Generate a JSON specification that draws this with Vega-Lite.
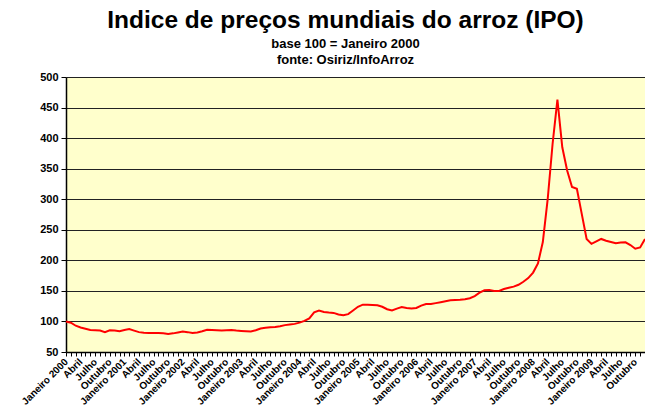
{
  "$schema": "https://vega.github.io/schema/vega-lite/v6.json",
  "width": 579,
  "height": 275,
  "autosize": "none",
  "padding": {"left": 66, "top": 77, "right": 0, "bottom": 62},
  "background": "#ffffff",
  "title": {
    "text": "Indice de preços mundiais do arroz (IPO)",
    "subtitle": ["base 100 = Janeiro 2000", "fonte: Osiriz/InfoArroz"],
    "font": "Liberation Sans",
    "fontSize": 24.5,
    "fontWeight": "bold",
    "color": "#000000",
    "subtitleFont": "Liberation Sans",
    "subtitleFontSize": 13,
    "subtitleFontWeight": "bold",
    "subtitleColor": "#000000",
    "subtitlePadding": 5,
    "subtitleLineHeight": 16,
    "offset": 3,
    "dx": -10
  },
  "data": {
    "values": [
      {"mes": "2000-01", "indice": 100}, {"mes": "2000-02", "indice": 98}, {"mes": "2000-03", "indice": 93}, {"mes": "2000-04", "indice": 90},
      {"mes": "2000-05", "indice": 88}, {"mes": "2000-06", "indice": 86}, {"mes": "2000-07", "indice": 85.5}, {"mes": "2000-08", "indice": 85},
      {"mes": "2000-09", "indice": 82.5}, {"mes": "2000-10", "indice": 85.5}, {"mes": "2000-11", "indice": 85}, {"mes": "2000-12", "indice": 84},
      {"mes": "2001-01", "indice": 86}, {"mes": "2001-02", "indice": 87.5}, {"mes": "2001-03", "indice": 85}, {"mes": "2001-04", "indice": 82.5},
      {"mes": "2001-05", "indice": 81.5}, {"mes": "2001-06", "indice": 81}, {"mes": "2001-07", "indice": 81}, {"mes": "2001-08", "indice": 81},
      {"mes": "2001-09", "indice": 80.5}, {"mes": "2001-10", "indice": 79.5}, {"mes": "2001-11", "indice": 80.5}, {"mes": "2001-12", "indice": 82},
      {"mes": "2002-01", "indice": 83.5}, {"mes": "2002-02", "indice": 82.5}, {"mes": "2002-03", "indice": 81}, {"mes": "2002-04", "indice": 82},
      {"mes": "2002-05", "indice": 84}, {"mes": "2002-06", "indice": 86.5}, {"mes": "2002-07", "indice": 86}, {"mes": "2002-08", "indice": 85.5},
      {"mes": "2002-09", "indice": 85}, {"mes": "2002-10", "indice": 85.5}, {"mes": "2002-11", "indice": 86}, {"mes": "2002-12", "indice": 85},
      {"mes": "2003-01", "indice": 84.5}, {"mes": "2003-02", "indice": 84}, {"mes": "2003-03", "indice": 83.5}, {"mes": "2003-04", "indice": 85.5},
      {"mes": "2003-05", "indice": 88.5}, {"mes": "2003-06", "indice": 89.5}, {"mes": "2003-07", "indice": 90.5}, {"mes": "2003-08", "indice": 91},
      {"mes": "2003-09", "indice": 92}, {"mes": "2003-10", "indice": 94}, {"mes": "2003-11", "indice": 95}, {"mes": "2003-12", "indice": 96},
      {"mes": "2004-01", "indice": 98}, {"mes": "2004-02", "indice": 101}, {"mes": "2004-03", "indice": 105}, {"mes": "2004-04", "indice": 115},
      {"mes": "2004-05", "indice": 118}, {"mes": "2004-06", "indice": 115.5}, {"mes": "2004-07", "indice": 114.5}, {"mes": "2004-08", "indice": 114},
      {"mes": "2004-09", "indice": 111.5}, {"mes": "2004-10", "indice": 110}, {"mes": "2004-11", "indice": 112}, {"mes": "2004-12", "indice": 118},
      {"mes": "2005-01", "indice": 124}, {"mes": "2005-02", "indice": 127.5}, {"mes": "2005-03", "indice": 127.5}, {"mes": "2005-04", "indice": 127},
      {"mes": "2005-05", "indice": 126.5}, {"mes": "2005-06", "indice": 124}, {"mes": "2005-07", "indice": 120}, {"mes": "2005-08", "indice": 118},
      {"mes": "2005-09", "indice": 121}, {"mes": "2005-10", "indice": 123.5}, {"mes": "2005-11", "indice": 122}, {"mes": "2005-12", "indice": 121},
      {"mes": "2006-01", "indice": 122}, {"mes": "2006-02", "indice": 126}, {"mes": "2006-03", "indice": 128.5}, {"mes": "2006-04", "indice": 128.5},
      {"mes": "2006-05", "indice": 130}, {"mes": "2006-06", "indice": 131.5}, {"mes": "2006-07", "indice": 133}, {"mes": "2006-08", "indice": 134.5},
      {"mes": "2006-09", "indice": 135}, {"mes": "2006-10", "indice": 135.5}, {"mes": "2006-11", "indice": 136.5}, {"mes": "2006-12", "indice": 138},
      {"mes": "2007-01", "indice": 141.5}, {"mes": "2007-02", "indice": 147}, {"mes": "2007-03", "indice": 151}, {"mes": "2007-04", "indice": 151.5},
      {"mes": "2007-05", "indice": 150}, {"mes": "2007-06", "indice": 150}, {"mes": "2007-07", "indice": 153}, {"mes": "2007-08", "indice": 155},
      {"mes": "2007-09", "indice": 157}, {"mes": "2007-10", "indice": 160}, {"mes": "2007-11", "indice": 165}, {"mes": "2007-12", "indice": 171},
      {"mes": "2008-01", "indice": 180}, {"mes": "2008-02", "indice": 195}, {"mes": "2008-03", "indice": 230}, {"mes": "2008-04", "indice": 300},
      {"mes": "2008-05", "indice": 390}, {"mes": "2008-06", "indice": 463}, {"mes": "2008-07", "indice": 385}, {"mes": "2008-08", "indice": 347},
      {"mes": "2008-09", "indice": 320}, {"mes": "2008-10", "indice": 317}, {"mes": "2008-11", "indice": 276}, {"mes": "2008-12", "indice": 235},
      {"mes": "2009-01", "indice": 227}, {"mes": "2009-02", "indice": 231}, {"mes": "2009-03", "indice": 235}, {"mes": "2009-04", "indice": 232},
      {"mes": "2009-05", "indice": 230}, {"mes": "2009-06", "indice": 228}, {"mes": "2009-07", "indice": 229}, {"mes": "2009-08", "indice": 229.5},
      {"mes": "2009-09", "indice": 225}, {"mes": "2009-10", "indice": 219}, {"mes": "2009-11", "indice": 221}, {"mes": "2009-12", "indice": 235}
    ]
  },
  "mark": {"type": "line", "color": "#FF0000", "strokeWidth": 2},
  "encoding": {
    "x": {
      "field": "mes",
      "type": "ordinal",
      "sort": null,
      "scale": {"type": "point", "padding": 0},
      "axis": {
        "title": null,
        "labelExpr": "substring(datum.value,5,7)=='01' ? 'Janeiro ' + substring(datum.value,0,4) : substring(datum.value,5,7)=='04' ? 'Abril' : substring(datum.value,5,7)=='07' ? 'Julho' : substring(datum.value,5,7)=='10' ? 'Outubro' : ''",
        "labelAngle": -45,
        "labelAlign": "right",
        "labelBaseline": "middle",
        "labelOverlap": false,
        "labelFont": "Liberation Sans",
        "labelFontSize": 10,
        "labelFontWeight": "bold",
        "labelColor": "#000000",
        "labelPadding": 4,
        "ticks": true,
        "tickSize": 4,
        "tickColor": "#000000",
        "domainColor": "#000000",
        "domainWidth": 1.5,
        "grid": false
      }
    },
    "y": {
      "field": "indice",
      "type": "quantitative",
      "scale": {"domain": [50, 500], "nice": false, "zero": false},
      "axis": {
        "title": null,
        "values": [50, 100, 150, 200, 250, 300, 350, 400, 450, 500],
        "labelFont": "Liberation Sans",
        "labelFontSize": 11,
        "labelFontWeight": "bold",
        "labelColor": "#000000",
        "labelPadding": 3,
        "tickSize": 5,
        "tickColor": "#000000",
        "domainColor": "#000000",
        "domainWidth": 1.5,
        "grid": true,
        "gridColor": "#222222",
        "gridWidth": 1
      }
    }
  },
  "config": {"view": {"fill": "#FFFFCC", "stroke": null}}
}
